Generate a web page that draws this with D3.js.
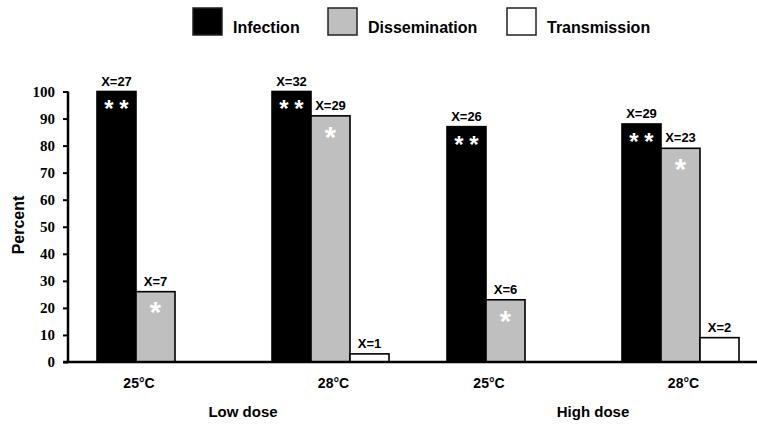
<!DOCTYPE html>
<html>
<head>
<meta charset="utf-8">
<script src="https://cdn.jsdelivr.net/npm/d3@7"></script>
<style>
  html, body { margin: 0; padding: 0; background: #fff; }
  svg { display: block; }
</style>
</head>
<body>
<svg id="chart" width="757" height="428"></svg>
<script>
// ---- data ----
const groups = ["Low 25", "Low 28", "High 25", "High 28"];
const tempLabels = ["25°C", "28°C", "25°C", "28°C"];
const doseLabels = ["Low dose", "High dose"];
const series = ["Infection", "Dissemination", "Transmission"];
const infection = [100, 100, 87, 88];
const dissemination = [26, 91, 23, 79];
const transmission = [0, 3, 0, 9];
const infectionN = ["X=27", "X=32", "X=26", "X=29"];
const disseminationN = ["X=7", "X=29", "X=6", "X=23"];
const transmissionN = ["", "X=1", "", "X=2"];
const infectionSig = ["**", "**", "**", "**"];
const disseminationSig = ["*", "*", "*", "*"];
const transmissionSig = ["", "", "", ""];
const yTicks = [0, 10, 20, 30, 40, 50, 60, 70, 80, 90, 100];

const fills = ["#000000", "#bfbfbf", "#ffffff"];
const valuesBySeries = [infection, dissemination, transmission];
const nBySeries = [infectionN, disseminationN, transmissionN];
const sigBySeries = [infectionSig, disseminationSig, transmissionSig];

const rows = [];
groups.forEach((g, gi) => {
  series.forEach((s, si) => {
    rows.push({ group: g, gi, series: s, si,
      value: valuesBySeries[si][gi], n: nBySeries[si][gi], sig: sigBySeries[si][gi] });
  });
});

// ---- layout ----
const svg = d3.select("#chart");
const axisX = 68, baseY = 362, topY = 91.5;
const sans = "'Liberation Sans', Arial, sans-serif";
const serif = "'Liberation Serif', 'Times New Roman', serif";

const x0 = d3.scaleBand().domain(groups).range([axisX, axisX + 700])
  .paddingInner(58 / 175).paddingOuter(29 / 175);
const x1 = d3.scaleBand().domain(series).range([0, x0.bandwidth()]).padding(0);
const y = d3.scaleLinear().domain([0, 100]).range([baseY, topY]);
const color = d3.scaleOrdinal().domain(series).range(fills);

// bars
const g = svg.append("g");
g.selectAll("rect.bar")
  .data(rows.filter(d => d.value > 0))
  .join("rect")
  .attr("class", "bar")
  .attr("x", d => x0(d.group) + x1(d.series))
  .attr("y", d => y(d.value))
  .attr("width", x1.bandwidth())
  .attr("height", d => y(0) - y(d.value))
  .attr("fill", d => color(d.series))
  .attr("stroke", "#000")
  .attr("stroke-width", 1.6);

// n labels
g.selectAll("text.n")
  .data(rows.filter(d => d.n))
  .join("text")
  .attr("class", "n")
  .attr("x", d => x0(d.group) + x1(d.series) + x1.bandwidth() / 2)
  .attr("y", d => y(d.value) - 6)
  .attr("text-anchor", "middle")
  .attr("font-family", sans)
  .attr("font-weight", "bold")
  .attr("font-size", 13)
  .attr("fill", "#000")
  .text(d => d.n);

// significance stars
rows.filter(d => d.sig).forEach(d => {
  const cx = x0(d.group) + x1(d.series) + x1.bandwidth() / 2;
  const k = d.sig.length;
  const size = k > 1 ? 24 : 29;
  const gap = 15;
  for (let i = 0; i < k; i++) {
    const off = (i - (k - 1) / 2) * gap;
    g.append("text")
      .attr("x", cx + off)
      .attr("y", y(d.value) + (k > 1 ? 12 : 14) + size * 0.58)
      .attr("text-anchor", "middle")
      .attr("font-family", sans)
      .attr("font-weight", "bold")
      .attr("font-size", size)
      .attr("fill", "#fff")
      .text("*");
  }
});

// y axis
const yAxis = d3.axisLeft(y).tickValues(yTicks).tickSize(5).tickPadding(8);
const ya = svg.append("g").attr("transform", `translate(${axisX},0)`).call(yAxis);
ya.select(".domain").attr("stroke", "#000").attr("stroke-width", 2.5)
  .attr("d", `M0,${topY}V${baseY}`);
ya.selectAll(".tick line").attr("stroke", "#000").attr("stroke-width", 2);
ya.selectAll(".tick text").attr("font-family", serif).attr("font-weight", "bold")
  .attr("font-size", 15).attr("fill", "#000");

// x axis baseline
svg.append("line").attr("x1", axisX - 5).attr("x2", 757)
  .attr("y1", baseY).attr("y2", baseY)
  .attr("stroke", "#000").attr("stroke-width", 2.5);

// temperature labels: centred under the drawn bars of each group
groups.forEach((grp, gi) => {
  const drawn = series.filter((s, si) => valuesBySeries[si][gi] > 0);
  const left = x0(grp) + x1(drawn[0]);
  const right = x0(grp) + x1(drawn[drawn.length - 1]) + x1.bandwidth();
  svg.append("text")
    .attr("x", (left + right) / 2 + 3)
    .attr("y", 388)
    .attr("text-anchor", "middle")
    .attr("font-family", sans).attr("font-weight", "bold").attr("font-size", 14)
    .attr("fill", "#000")
    .text(tempLabels[gi]);
});

// dose labels
doseLabels.forEach((lab, di) => {
  const a = x0(groups[di * 2]) + x0.bandwidth() / 2;
  const b = x0(groups[di * 2 + 1]) + x0.bandwidth() / 2;
  svg.append("text")
    .attr("x", (a + b) / 2)
    .attr("y", 417)
    .attr("text-anchor", "middle")
    .attr("font-family", sans).attr("font-weight", "bold").attr("font-size", 15)
    .attr("fill", "#000")
    .text(lab);
});

// y title
svg.append("text")
  .attr("transform", `translate(24,225) rotate(-90)`)
  .attr("text-anchor", "middle")
  .attr("font-family", sans).attr("font-weight", "bold").attr("font-size", 16)
  .attr("fill", "#000")
  .text("Percent");

// legend
const legendX = [193, 328, 507];
const leg = svg.append("g");
series.forEach((s, si) => {
  leg.append("rect")
    .attr("x", legendX[si]).attr("y", 8)
    .attr("width", 29).attr("height", 27)
    .attr("fill", color(s)).attr("stroke", "#222").attr("stroke-width", 1.5);
  leg.append("text")
    .attr("x", legendX[si] + 40).attr("y", 33)
    .attr("font-family", sans).attr("font-weight", "bold").attr("font-size", 16)
    .attr("fill", "#000")
    .text(s);
});
</script>
</body>
</html>
